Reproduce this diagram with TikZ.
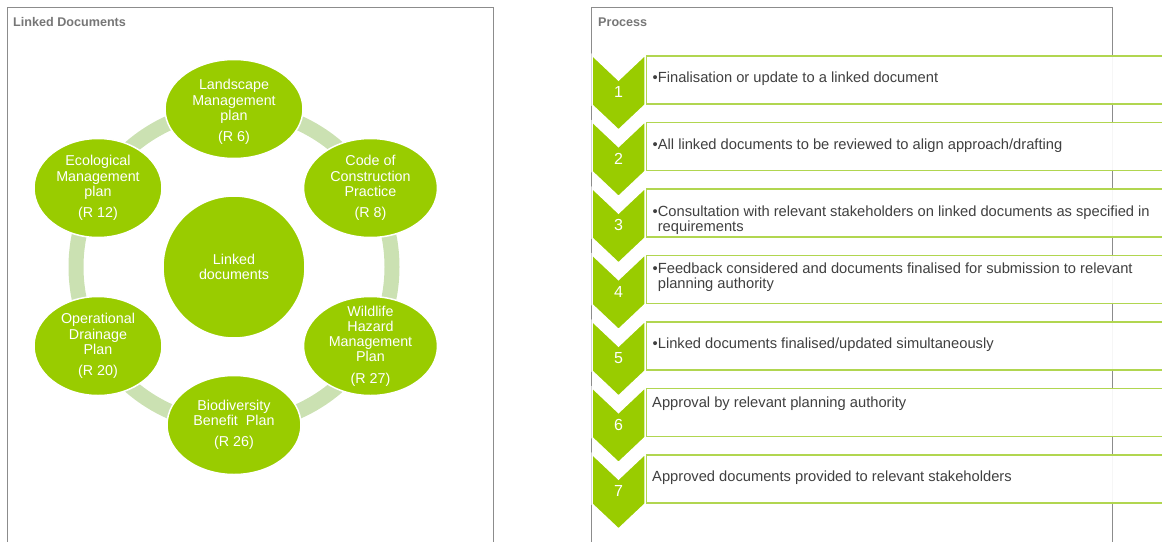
\documentclass[tikz,border=0pt]{standalone}
\usepackage{fontspec}
\setmainfont{Liberation Sans}
\usetikzlibrary{shapes.geometric}

\definecolor{leafgreen}{RGB}{153,204,0}
\definecolor{ringgreen}{RGB}{203,225,178}
\definecolor{boxline}{RGB}{177,214,80}
\definecolor{framegray}{RGB}{140,140,140}
\definecolor{titlegray}{RGB}{118,118,118}
\definecolor{textgray}{RGB}{64,64,64}

\begin{document}
\begin{tikzpicture}[x=1pt,y=-1pt,
  panelframe/.style={draw=framegray, line width=0.8pt},
  paneltitle/.style={anchor=base west, inner sep=0pt, text=titlegray, font=\fontsize{12.6}{15}\selectfont\bfseries},
  ringline/.style={draw=ringgreen, line width=15pt},
  doc/.style={ellipse, fill=leafgreen, draw=white, line width=1.5pt, minimum width=134pt, minimum height=99pt, inner sep=0pt},
  hubnode/.style={circle, fill=leafgreen, draw=white, line width=1.5pt, minimum size=142pt, inner sep=0pt},
  doctext/.style={align=center, text=white, inner sep=0pt, font=\fontsize{14.3}{15.2}\selectfont},
  chev/.style={fill=leafgreen, draw=white, line width=1.5pt, line join=miter},
  stepnum/.style={text=white, inner sep=0pt, font=\fontsize{16}{16}\selectfont},
  stepbox/.style={draw=boxline, fill=white, line width=1.8pt, minimum width=540pt, minimum height=48pt, anchor=north west, inner sep=0pt},
  steptext/.style={anchor=west, align=left, inner sep=0pt, text=textgray, font=\fontsize{14.7}{15}\selectfont}
]
     \clip (0,0) rectangle (1162,541);

     %Linked documents panel
     \draw[panelframe] (7,545) |- (493,7) -- (493,545);
     \node[paneltitle] (ltitle) at (13,26) {Linked Documents};

     \coordinate (hub) at (234,267);
     \draw[ringline] (hub) circle[radius=158pt];

     \node[hubnode] (ld) at (hub) {};
     \node[doctext] (ldt) at (ld) {Linked\\documents};

     \node[doc, minimum width=138pt] (lmp) at (234,109) {};
     \node[doctext] (lmpt) at (234,112) {Landscape\\Management\\plan\\[6pt](R 6)};

     \node[doc] (ccp) at (370.5,188) {};
     \node[doctext] (ccpt) at (ccp) {Code of\\Construction\\Practice\\[6pt](R 8)};

     \node[doc] (whm) at (370.5,346) {};
     \node[doctext] (whmt) at (whm) {Wildlife\\Hazard\\Management\\Plan\\[6pt](R 27)};

     \node[doc] (bbp) at (234,425) {};
     \node[doctext] (bbpt) at (bbp) {Biodiversity\\Benefit\ \ Plan\\[6pt](R 26)};

     \node[doc, minimum width=128pt] (odp) at (98,346) {};
     \node[doctext] (odpt) at (odp) {Operational\\Drainage\\Plan\\[6pt](R 20)};

     \node[doc, minimum width=128pt] (emp) at (98,188) {};
     \node[doctext] (empt) at (emp) {Ecological\\Management\\plan\\[6pt](R 12)};

     %Process panel
     \draw[panelframe] (591.5,545) |- (1112,7) -- (1112,545);
     \node[paneltitle] (ptitle) at (598,26) {Process};

     \node[stepbox, fill opacity=0.93] (b1) at (645,55) {};
     \node[stepbox, fill opacity=0.93] (b2) at (645,121.5) {};
     \node[stepbox, fill opacity=0.93] (b3) at (645,188) {};
     \node[stepbox, fill opacity=0.93] (b4) at (645,254.5) {};
     \node[stepbox, fill opacity=0.93] (b5) at (645,321) {};
     \node[stepbox, fill opacity=0.93] (b6) at (645,387.5) {};
     \node[stepbox, fill opacity=0.93] (b7) at (645,454) {};

     \filldraw[chev] (592,55) -- (618.5,80) -- (645,55) -- (645,105) -- (618.5,130) -- (592,105) -- cycle;
     \filldraw[chev] (592,121.5) -- (618.5,146.5) -- (645,121.5) -- (645,171.5) -- (618.5,196.5) -- (592,171.5) -- cycle;
     \filldraw[chev] (592,188) -- (618.5,213) -- (645,188) -- (645,238) -- (618.5,263) -- (592,238) -- cycle;
     \filldraw[chev] (592,254.5) -- (618.5,279.5) -- (645,254.5) -- (645,304.5) -- (618.5,329.5) -- (592,304.5) -- cycle;
     \filldraw[chev] (592,321) -- (618.5,346) -- (645,321) -- (645,371) -- (618.5,396) -- (592,371) -- cycle;
     \filldraw[chev] (592,387.5) -- (618.5,412.5) -- (645,387.5) -- (645,437.5) -- (618.5,462.5) -- (592,437.5) -- cycle;
     \filldraw[chev] (592,454) -- (618.5,479) -- (645,454) -- (645,504) -- (618.5,529) -- (592,504) -- cycle;

     \node[stepnum] (n1) at (618.5,92) {1};
     \node[stepnum] (n2) at (618.5,158.5) {2};
     \node[stepnum] (n3) at (618.5,225) {3};
     \node[stepnum] (n4) at (618.5,291.5) {4};
     \node[stepnum] (n5) at (618.5,358) {5};
     \node[stepnum] (n6) at (618.5,424.5) {6};
     \node[stepnum] (n7) at (618.5,491) {7};

     \node[steptext] (t1) at (652.5,79) {•Finalisation or update to a linked document};
     \node[steptext] (t2) at (652.5,146) {•All linked documents to be reviewed to align approach/drafting};
     \node[steptext] (t3) at (652.5,220.5) {•Consultation with relevant stakeholders on linked documents as specified in\\\hphantom{•}requirements};
     \node[steptext] (t4) at (652.5,277.5) {•Feedback considered and documents finalised for submission to relevant\\\hphantom{•}planning authority};
     \node[steptext] (t5) at (652.5,345) {•Linked documents finalised/updated simultaneously};
     \node[steptext] (t6) at (652,403.5) {Approval by relevant planning authority};
     \node[steptext] (t7) at (652,478) {Approved documents provided to relevant stakeholders};

\end{tikzpicture}
\end{document}
